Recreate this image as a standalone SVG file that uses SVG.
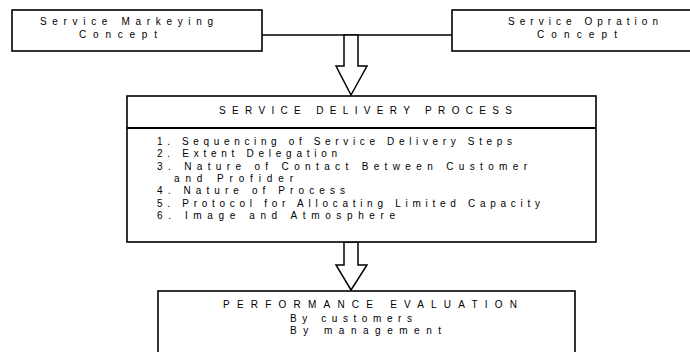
<svg xmlns="http://www.w3.org/2000/svg" width="690" height="352" viewBox="0 0 690 352">
  <style>
    .box { fill: #ffffff; stroke: #000000; stroke-width: 1.6; }
    .rule { stroke: #000000; stroke-width: 2; }
    .link { fill: none; stroke: #000000; stroke-width: 1.4; }
    .flow { fill: #ffffff; stroke: #000000; stroke-width: 1.5; stroke-linejoin: miter; }
    text { font-family: "Liberation Sans", Arial, sans-serif; font-size: 10px; fill: #000000; }
  </style>
  <rect width="690" height="352" fill="#ffffff"/>

  <!-- connectors -->
  <g id="connectors">
    <line class="link" x1="262" y1="35" x2="452" y2="35"/>
    <polygon class="flow" points="344,35 358,35 358,66 367,66 351,95 336,66 344,66"/>
    <polygon class="flow" points="344,242 358,242 358,265 367,265 351,290 336,265 344,265"/>
  </g>

  <!-- marketing concept -->
  <g id="marketing-concept">
    <rect class="box" x="12" y="10" width="250" height="41"/>
    <text x="40" y="25" textLength="173" lengthAdjust="spacing">Service  Markeying</text>
    <text x="79" y="37.5" textLength="78" lengthAdjust="spacing">Concept</text>
  </g>

  <!-- operation concept -->
  <g id="operation-concept">
    <rect class="box" x="452" y="10" width="245" height="41"/>
    <text x="508" y="25" textLength="150" lengthAdjust="spacing">Service Opration</text>
    <text x="537" y="37.5" textLength="80" lengthAdjust="spacing">Concept</text>
  </g>

  <!-- delivery process -->
  <g id="delivery-process">
    <rect class="box" x="127" y="96" width="469" height="146"/>
    <line class="rule" x1="127" y1="128" x2="596" y2="128"/>
    <text x="219" y="113.5" textLength="293" lengthAdjust="spacing">SERVICE DELIVERY PROCESS</text>
    <text x="157" y="145" textLength="355" lengthAdjust="spacing">1. Sequencing of Service Delivery Steps</text>
    <text x="157" y="157.3" textLength="180" lengthAdjust="spacing">2. Extent Delegation</text>
    <text x="157" y="169.6" textLength="370" lengthAdjust="spacing">3. Nature of Contact Between Customer</text>
    <text x="174" y="181.9" textLength="119" lengthAdjust="spacing">and Profider</text>
    <text x="157" y="194.2" textLength="188" lengthAdjust="spacing">4. Nature of Process</text>
    <text x="157" y="206.5" textLength="383" lengthAdjust="spacing">5. Protocol for Allocating Limited Capacity</text>
    <text x="157" y="218.8" textLength="238" lengthAdjust="spacing">6. Image and Atmosphere</text>
  </g>

  <!-- performance evaluation -->
  <g id="performance-evaluation">
    <rect class="box" x="158" y="291" width="417" height="80"/>
    <text x="223" y="307.5" textLength="294" lengthAdjust="spacing">PERFORMANCE EVALUATION</text>
    <text x="290" y="322" textLength="122" lengthAdjust="spacing">By customers</text>
    <text x="290" y="334" textLength="151" lengthAdjust="spacing">By management</text>
  </g>
</svg>
